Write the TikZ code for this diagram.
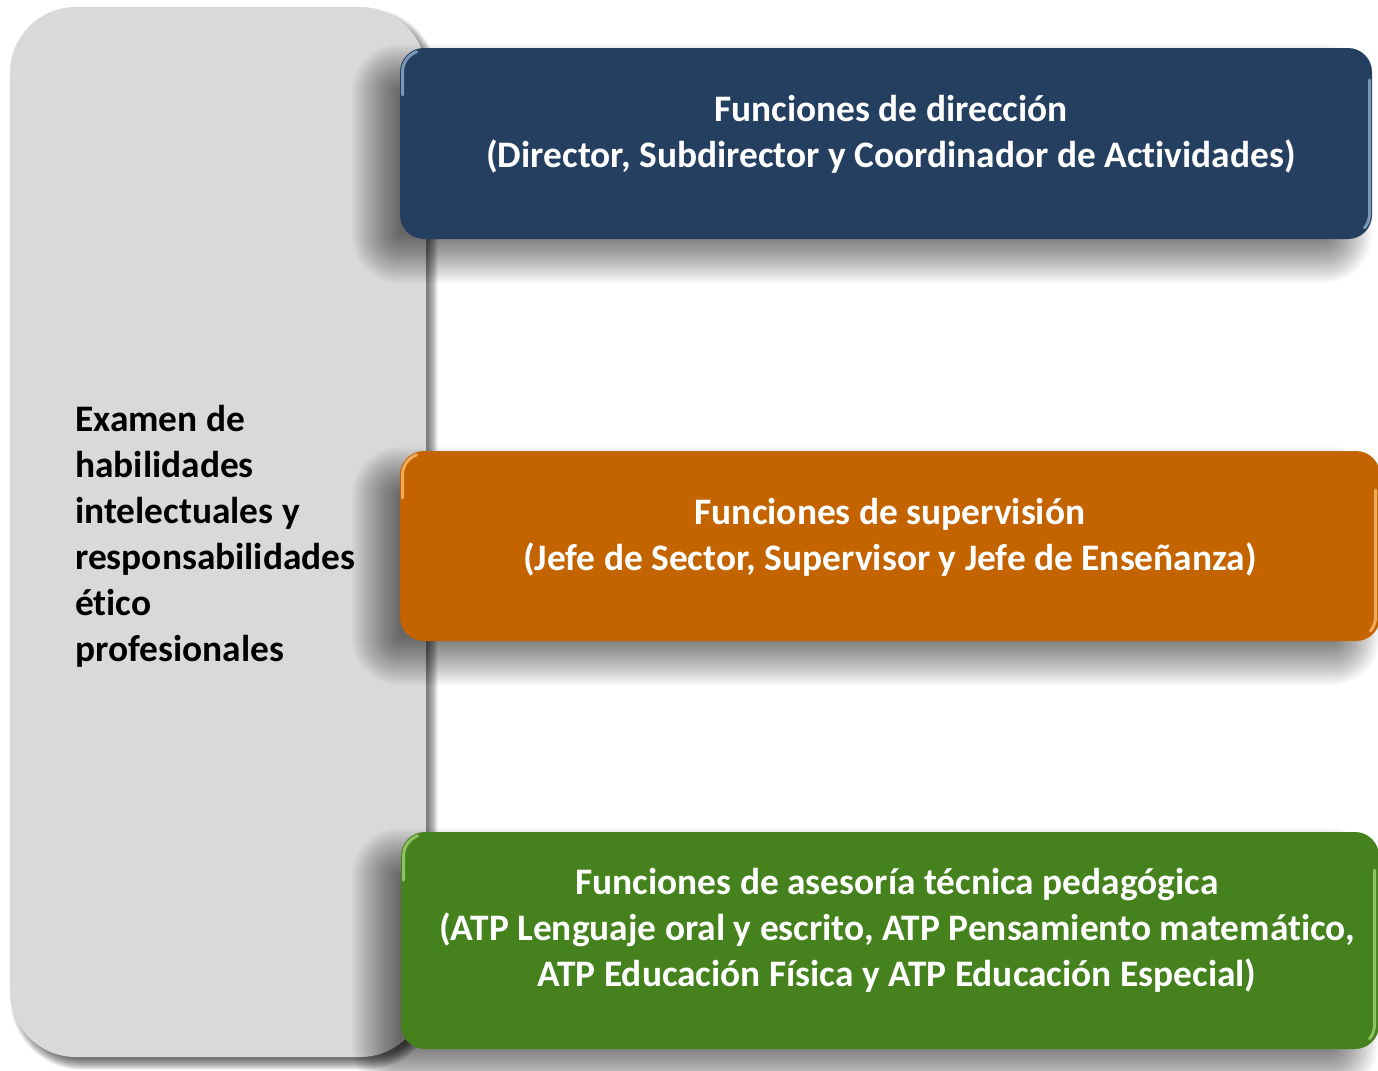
\documentclass[tikz,border=0pt]{standalone}
\usepackage{fontspec}
\setmainfont{Carlito}[Ligatures={NoCommon}]
\definecolor{grayfill}{HTML}{D9D9D9}
\definecolor{bluefill}{HTML}{243F60}
\definecolor{orangefill}{HTML}{C46400}
\definecolor{greenfill}{HTML}{45821E}
\definecolor{bluehl}{HTML}{9AB4D6}
\definecolor{orangehl}{HTML}{FFC27A}
\definecolor{greenhl}{HTML}{A6DA78}
\tikzset{
  panel/.style={rectangle, rounded corners=66bp, fill=grayfill, draw=none},
  rolebox/.style={rectangle, rounded corners=24bp, draw=none, fill=#1},
  roletext/.style={text=white, align=center, font=\bfseries\fontsize{37.4bp}{46bp}\selectfont, inner sep=0pt},
  paneltext/.style={text=black, align=left, font=\bfseries\fontsize{37.4bp}{46bp}\selectfont, inner sep=0pt},
  hl/.style={draw=#1, line width=3bp, line cap=round, opacity=0.75},
}
% soft shadow: #1,#2 = top-left; #3,#4 = bottom-right; #5 radius; #6,#7 offset; #8 blur; #9 per-layer opacity
\newcommand\mysoftshadow[9]{%
  \foreach \k in {0,...,23}{%
    \pgfmathsetmacro\ee{#8-2*#8*\k/23}%
    \pgfmathsetmacro\rr{max(#5+\ee,1)}%
    \fill[black, opacity=#9, rounded corners=\rr bp]
      ({#1+#6-\ee},{#2+#7-\ee}) rectangle ({#3+#6+\ee},{#4+#7+\ee});
  }}
\begin{document}
\begin{tikzpicture}[x=1bp, y=-1bp]
\useasboundingbox (0,0) rectangle (1378,1070);
\fill[white] (0,0) rectangle (1378,1070);

% left panel
\mysoftshadow{10}{7}{426}{1057}{66}{6}{7}{6}{0.03}
\node[panel, minimum width=416bp, minimum height=1050bp] (panel) at (218,532) {};
\node[paneltext, anchor=west] (paneltxt) at (75,536) {Examen de\\habilidades\\intelectuales y\\responsabilidades\\ético\\profesionales};

% shadows of role boxes
\mysoftshadow{400}{48}{1372}{239}{24}{-24}{20}{24}{0.028}
\mysoftshadow{400}{451}{1380}{641}{24}{-24}{20}{24}{0.028}
\mysoftshadow{400}{832}{1378}{1049}{24}{-24}{20}{24}{0.028}

% role boxes
\node[rolebox=bluefill, minimum width=972bp, minimum height=191bp] (dir) at (886,143.5) {};
\node[rolebox=orangefill, minimum width=980bp, minimum height=190bp] (sup) at (890,546) {};
\node[rolebox=greenfill, minimum width=978bp, minimum height=217bp] (atp) at (890,940.5) {};

% highlights
\draw[hl=bluehl] (402.5,95) -- (402.5,72) arc (180:250:21.5);
\draw[hl=bluehl] (1369.5,80) -- (1369.5,214) arc (0:40:21.5);
\draw[hl=orangehl] (402.5,498) -- (402.5,475) arc (180:250:21.5);
\draw[hl=orangehl] (1375.5,490) -- (1375.5,617) arc (0:40:21.5);
\draw[hl=greenhl] (403.5,880) -- (403.5,856) arc (180:250:21.5);
\draw[hl=greenhl] (1374.5,870) -- (1374.5,1025) arc (0:40:21.5);

% texts
\node[roletext] (dirtxt) at (891,134) {Funciones de dirección\\(Director, Subdirector y Coordinador de Actividades)};
\node[roletext] (suptxt) at (890,537) {Funciones de supervisión\\(Jefe de Sector, Supervisor y Jefe de Enseñanza)};
\node[roletext] (atptxt) at (897,930) {Funciones de asesoría técnica pedagógica\\(ATP Lenguaje oral y escrito, ATP Pensamiento matemático,\\ATP Educación Física y ATP Educación Especial)};
\end{tikzpicture}
\end{document}
